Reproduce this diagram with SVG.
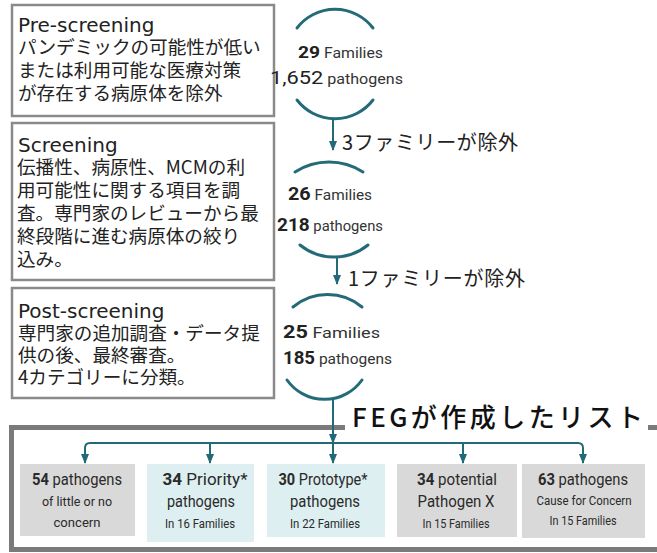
<svg xmlns="http://www.w3.org/2000/svg" width="657" height="553" viewBox="0 0 657 553">
<defs>
<style>
.stage{fill:#fff;stroke:#8a8a8a;stroke-width:2.5}
.ttl{font-family:"DejaVu Sans",sans-serif;font-size:20px;fill:#222}
.jp{font-family:"Noto Sans CJK JP",sans-serif;font-size:18.6px;fill:#222}
.cnt{font-family:"Liberation Sans Narrow",Roboto,sans-serif;fill:#222}
.b{font-weight:bold}
.arc{fill:none;stroke:#236b78;stroke-width:3;stroke-linecap:round}
.con{fill:none;stroke:#226a77;stroke-width:2}
.lbl{font-family:"Noto Sans CJK JP",sans-serif;font-size:20px;fill:#222}
.gray{fill:#d9d9d9}
.teal{fill:#ddeff0}
.bx{font-family:"Liberation Sans Narrow",Roboto,sans-serif;fill:#2a2a2a;text-anchor:middle}
</style>
<marker id="ah" viewBox="0 0 10 10" refX="9" refY="5" markerWidth="5" markerHeight="5" orient="auto">
<path d="M0,1 L10,5 L0,9 z" fill="#226a77"/>
</marker>
</defs>

<g id="pre-screening">
<rect class="stage" x="12" y="5" width="262" height="111"/>
<text class="ttl" x="18" y="32">Pre-screening</text>
<text class="jp" x="18" y="54">パンデミックの可能性が低い</text>
<text class="jp" x="18" y="77">または利用可能な医療対策</text>
<text class="jp" x="18" y="100">が存在する病原体を除外</text>
</g>

<g id="screening">
<rect class="stage" x="12" y="123" width="262" height="157"/>
<text class="ttl" x="18" y="152">Screening</text>
<text class="jp" x="17" y="174">伝播性、病原性、MCMの利</text>
<text class="jp" x="17" y="197">用可能性に関する項目を調</text>
<text class="jp" x="17" y="220">査。専門家のレビューから最</text>
<text class="jp" x="17" y="243">終段階に進む病原体の絞り</text>
<text class="jp" x="17" y="266">込み。</text>
</g>

<g id="post-screening">
<rect class="stage" x="12" y="288" width="262" height="110"/>
<text class="ttl" x="18" y="318">Post-screening</text>
<text class="jp" x="18" y="340">専門家の追加調査・データ提</text>
<text class="jp" x="18" y="362">供の後、最終審査。</text>
<text class="jp" x="18" y="384">4カテゴリーに分類。</text>
</g>

<g id="count-1">
<path class="arc" d="M297 28 A48 48 0 0 1 373 28"/>
<path class="arc" d="M297 100 A48 48 0 0 0 373 100"/>
<text class="cnt" x="298" y="58" textLength="85" lengthAdjust="spacingAndGlyphs"><tspan class="b" font-size="17">29</tspan><tspan font-size="14" fill="#333"> Families</tspan></text>
<text class="cnt" x="270" y="84" textLength="133" lengthAdjust="spacingAndGlyphs"><tspan font-size="19">1,652</tspan><tspan font-size="14" fill="#333"> pathogens</tspan></text>
</g>

<g id="count-2">
<path class="arc" d="M295 172 A63 63 0 0 1 363 172"/>
<path class="arc" d="M300 245 A54 54 0 0 0 368 245"/>
<text class="cnt" x="288" y="200" textLength="84" lengthAdjust="spacingAndGlyphs"><tspan class="b" font-size="18">26</tspan><tspan font-size="14" fill="#333"> Families</tspan></text>
<text class="cnt" x="277" y="231" textLength="106" lengthAdjust="spacingAndGlyphs"><tspan class="b" font-size="18">218</tspan><tspan font-size="14" fill="#333"> pathogens</tspan></text>
</g>

<g id="count-3">
<path class="arc" d="M293 307 A54 54 0 0 1 362 307"/>
<path class="arc" d="M287 380 A46 46 0 0 0 362 380"/>
<text class="cnt" x="283" y="338" textLength="97" lengthAdjust="spacingAndGlyphs"><tspan class="b" font-size="18">25</tspan><tspan font-size="15" fill="#333"> Families</tspan></text>
<text class="cnt" x="283" y="364" textLength="109" lengthAdjust="spacingAndGlyphs"><tspan class="b" font-size="18">185</tspan><tspan font-size="15" fill="#333"> pathogens</tspan></text>
</g>

<g id="feg-list">
<path d="M345 427.5 H11.5 V549.5 H662 M648 427.5 H662" fill="none" stroke="#7a7a7a" stroke-width="5"/>
<text x="352" y="427" font-family="'Noto Sans CJK JP',sans-serif" font-size="26" font-weight="500" fill="#111" textLength="291" lengthAdjust="spacing">FEGが作成したリスト</text>
</g>

<g id="connectors">
<line class="con" x1="333" y1="118" x2="333" y2="150" marker-end="url(#ah)"/>
<line class="con" x1="337" y1="257" x2="337" y2="284" marker-end="url(#ah)"/>
<line class="con" x1="333" y1="400" x2="333" y2="443" stroke-width="3" marker-end="url(#ah)"/>
<line class="con" x1="333" y1="443" x2="333" y2="463" stroke-width="2.5" marker-end="url(#ah)"/>
<path class="con" d="M333 443 H90 Q85 443 85 448 V463" marker-end="url(#ah)"/>
<path class="con" d="M333 443 H578 Q583 443 583 448 V463" marker-end="url(#ah)"/>
<line class="con" x1="210" y1="443" x2="210" y2="463" marker-end="url(#ah)"/>
<line class="con" x1="463" y1="443" x2="463" y2="463" marker-end="url(#ah)"/>
<text class="lbl" x="342" y="150" textLength="176" lengthAdjust="spacing">3ファミリーが除外</text>
<text class="lbl" x="348" y="286" textLength="177" lengthAdjust="spacing">1ファミリーが除外</text>
</g>

<g id="cat-little">
<rect class="gray" x="20" y="464" width="115" height="72"/>
<text class="bx" x="77" y="485" textLength="90" lengthAdjust="spacingAndGlyphs"><tspan class="b" font-size="17">54</tspan><tspan font-size="17"> pathogens</tspan></text>
<text class="bx" x="77" y="506" font-size="13" textLength="70" lengthAdjust="spacingAndGlyphs">of little or no</text>
<text class="bx" x="77" y="527" font-size="13" textLength="47" lengthAdjust="spacingAndGlyphs">concern</text>
</g>

<g id="cat-priority">
<rect class="teal" x="147" y="464" width="107" height="78"/>
<text class="bx" x="205" y="485" textLength="85" lengthAdjust="spacingAndGlyphs"><tspan class="b" font-size="17">34</tspan><tspan font-size="17"> Priority*</tspan></text>
<text class="bx" x="201" y="507" font-size="17" textLength="68" lengthAdjust="spacingAndGlyphs">pathogens</text>
<text class="bx" x="200" y="528" font-size="12" textLength="70" lengthAdjust="spacingAndGlyphs">In 16 Families</text>
</g>

<g id="cat-prototype">
<rect class="teal" x="267" y="464" width="118" height="73"/>
<text class="bx" x="323" y="485" textLength="89" lengthAdjust="spacingAndGlyphs"><tspan class="b" font-size="17">30</tspan><tspan font-size="17"> Prototype*</tspan></text>
<text class="bx" x="325" y="507" font-size="17" textLength="70" lengthAdjust="spacingAndGlyphs">pathogens</text>
<text class="bx" x="325" y="528" font-size="12" textLength="70" lengthAdjust="spacingAndGlyphs">In 22 Families</text>
</g>

<g id="cat-pathogen-x">
<rect class="gray" x="397" y="464" width="120" height="73"/>
<text class="bx" x="457" y="485" textLength="80" lengthAdjust="spacingAndGlyphs"><tspan class="b" font-size="17">34</tspan><tspan font-size="17"> potential</tspan></text>
<text class="bx" x="456" y="507" font-size="17" textLength="77" lengthAdjust="spacingAndGlyphs">Pathogen X</text>
<text class="bx" x="456" y="528" font-size="12" textLength="67" lengthAdjust="spacingAndGlyphs">In 15 Families</text>
</g>

<g id="cat-concern">
<rect class="gray" x="522" y="464" width="123" height="74"/>
<text class="bx" x="583" y="485" textLength="90" lengthAdjust="spacingAndGlyphs"><tspan class="b" font-size="17">63</tspan><tspan font-size="17"> pathogens</tspan></text>
<text class="bx" x="584" y="505" font-size="12" textLength="95" lengthAdjust="spacingAndGlyphs">Cause for Concern</text>
<text class="bx" x="583" y="525" font-size="12" textLength="67" lengthAdjust="spacingAndGlyphs">In 15 Families</text>
</g>
</svg>
